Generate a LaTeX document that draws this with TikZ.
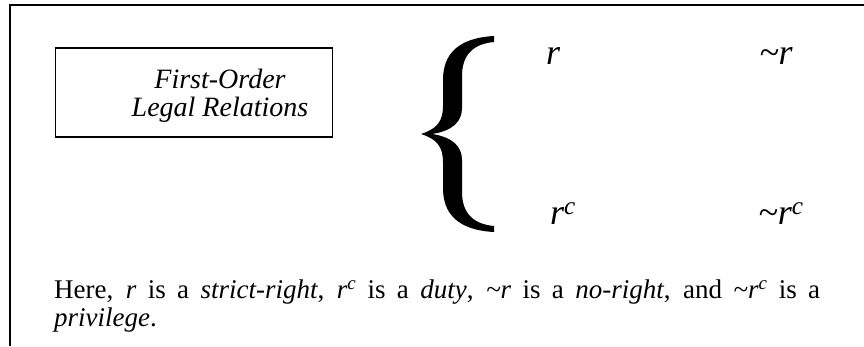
\documentclass[tikz,border=0pt]{standalone}
\usepackage{fontspec}
\setmainfont{Liberation Serif}
\usetikzlibrary{positioning}
\tikzset{
	framenode/.style={
			draw=black,
			line width=1.5pt,
			minimum width=277pt,
			minimum height=89pt,
			inner sep=0pt
		},
	titlenode/.style={
			inner sep=0pt,
			align=center,
			font=\fontsize{28}{28}\selectfont\itshape
		},
	relnode/.style={
			anchor=base,
			inner sep=0pt,
			font=\fontsize{36}{36}\selectfont\itshape
		},
	bodynode/.style={
			anchor=north west,
			inner sep=0pt,
			text width=766pt,
			align=justify,
			font=\fontsize{27}{28}\selectfont
		}
}
\newcommand{\nt}{\textasciitilde}

\begin{document}
\begin{tikzpicture}[x=1pt, y=-1pt]
\useasboundingbox (0,0) rectangle (864,346);
% outer frame, open at right and bottom
\draw[line width=2pt] (10,346) -- (10,5) -- (864,5);

\node[framenode] (titlebox) at (194,92.5) {};
\node[titlenode] (title) at (220,96) {First-Order\\Legal Relations};

% brace
\fill (494,36) .. controls (457,38) and (443,55) .. (443,80)
  -- (443,106) .. controls (443,121) and (437,129) .. (421,134)
  .. controls (437,139) and (443,147) .. (443,162)
  -- (443,188) .. controls (443,213) and (457,230) .. (494,232)
  -- (494,226) .. controls (472,224) and (462,212) .. (462,192)
  -- (462,160) .. controls (462,146) and (452,137) .. (432,134)
  .. controls (452,131) and (462,122) .. (462,108)
  -- (462,76) .. controls (462,56) and (472,44) .. (494,42) -- cycle;

\node[relnode] (r) at (553,64) {r};
\node[relnode] (nr) at (776,64) {\nt r};
\node[relnode] (rc) at (563,224) {r\textsuperscript{c}};
\node[relnode] (nrc) at (781,224) {\nt r\textsuperscript{c}};

\node[bodynode] (body) at (54,280) {Here, \textit{r} is a \textit{strict-right}, \textit{r\textsuperscript{c}} is a \textit{duty}, \textit{\nt r} is a \textit{no-right}, and \textit{\nt r\textsuperscript{c}} is a\linebreak \textit{privilege}.};
\end{tikzpicture}
\end{document}
